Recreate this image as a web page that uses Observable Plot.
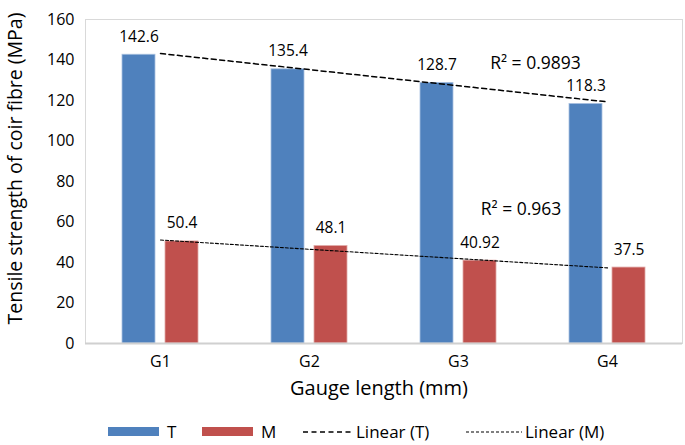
<!DOCTYPE html>
<html>
<head>
<meta charset="utf-8">
<script src="https://cdn.jsdelivr.net/npm/d3@7"></script>
<script src="https://cdn.jsdelivr.net/npm/@observablehq/plot@0.6"></script>
<style>
  body { margin: 0; background: #fff; font-family: "Open Sans", sans-serif; }
  #chart svg { display: block; }
  #legend { position: relative; width: 685px; height: 33px; font-size: 17px; color: #000; }
  #legend .it { position: absolute; top: 3px; height: 33px; display: flex; align-items: center; }
  #legend .sw { display: inline-block; width: 51px; height: 9px; }
  #legend svg { display: block; }
</style>
</head>
<body>
<div id="chart"></div>
<div id="legend"></div>
<script>
const categories = ["G1", "G2", "G3", "G4"];
const tValues = [142.6, 135.4, 128.7, 118.3];
const mValues = [50.4, 48.1, 40.92, 37.5];
const tLabels = ["142.6", "135.4", "128.7", "118.3"];
const mLabels = ["50.4", "48.1", "40.92", "37.5"];
const yTicks = [0, 20, 40, 60, 80, 100, 120, 140, 160];
const seriesNames = ["T", "M", "Linear (T)", "Linear (M)"];
const r2Texts = ["R² = 0.9893", "R² = 0.963"];
const r2Anchor = ["G3", "G3"];
const r2Y = [138.3, 66];
const yTitle = "Tensile strength of coir fibre (MPa)";
const xTitle = "Gauge length (mm)";

const tData = categories.map((c, i) => ({cat: c, value: tValues[i], label: tLabels[i]}));
const mData = categories.map((c, i) => ({cat: c, value: mValues[i], label: mLabels[i]}));

// least-squares linear trend over category index 1..n
function trend(values) {
  const xs = values.map((_, i) => i + 1);
  const mx = d3.mean(xs), my = d3.mean(values);
  const b = d3.sum(xs.map((x, i) => (x - mx) * (values[i] - my))) / d3.sum(xs.map(x => (x - mx) ** 2));
  const a = my - b * mx;
  return categories.map((c, i) => ({cat: c, y: a + b * (i + 1)}));
}
const tTrend = trend(tValues);
const mTrend = trend(mValues);

const blue = "#4F81BD", red = "#C0504D";
const font = "'Open Sans', sans-serif";

const chart = Plot.plot({
  width: 685,
  height: 412,
  marginLeft: 85,
  marginRight: 3,
  marginTop: 19,
  marginBottom: 69,
  style: {fontFamily: font, fontSize: "16px", color: "#000", background: "#fff"},
  x: {type: "band", domain: categories, paddingInner: 0.487, paddingOuter: 0.2435, axis: null},
  y: {domain: [0, 160], axis: null},
  marks: [
    Plot.frame({stroke: "#d9d9d9"}),
    Plot.barY(tData, {x: "cat", y: "value", fill: blue, insetRight: 43, stroke: "#a9c0e0", strokeWidth: 0.8}),
    Plot.barY(mData, {x: "cat", y: "value", fill: red, insetLeft: 43, stroke: "#e0a8a6", strokeWidth: 0.8}),
    Plot.ruleY([0], {stroke: "#d0d0d0", strokeWidth: 2}),
    Plot.line(tTrend, {x: "cat", y: "y", stroke: "#000", strokeWidth: 1.5, strokeDasharray: "5,3.5"}),
    Plot.line(mTrend, {x: "cat", y: "y", stroke: "#000", strokeWidth: 1.1, strokeDasharray: "3,2"}),
    Plot.text(tData, {x: "cat", y: "value", text: "label", dx: -21.5, dy: -18, fontSize: 15.5}),
    Plot.text(mData, {x: "cat", y: "value", text: "label", dx: 21.5, dy: -18, fontSize: 15.5}),
    Plot.text([0], {x: () => r2Anchor[0], y: () => r2Y[0], text: () => r2Texts[0], dx: 77, fontSize: 17.5}),
    Plot.text([0], {x: () => r2Anchor[1], y: () => r2Y[1], text: () => r2Texts[1], dx: 62.5, fontSize: 17.5}),
    Plot.axisY({ticks: yTicks, tickSize: 0, tickPadding: 11, fontSize: 16, label: null}),
    Plot.axisX({tickSize: 0, tickPadding: 12, fontSize: 16, label: null}),
    Plot.text([yTitle], {frameAnchor: "left", rotate: -90, dx: -70, dy: -13, textAnchor: "middle", lineAnchor: "middle", fontSize: 19.5}),
    Plot.text([xTitle], {frameAnchor: "bottom", dy: 45, dx: -5, textAnchor: "middle", lineAnchor: "middle", fontSize: 20})
  ]
});
document.getElementById("chart").appendChild(chart);

// legend
const legend = document.getElementById("legend");
const items = [
  {left: 108, kind: "swatch", color: blue, name: seriesNames[0]},
  {left: 202, kind: "swatch", color: red, name: seriesNames[1]},
  {left: 303, kind: "dash", dash: "5,3.5", width: 1.5, len: 50, name: seriesNames[2]},
  {left: 466, kind: "dash", dash: "3,2", width: 1.1, len: 56, name: seriesNames[3]}
];
for (const it of items) {
  const d = document.createElement("div");
  d.className = "it";
  d.style.left = it.left + "px";
  if (it.kind === "swatch") {
    const s = document.createElement("span");
    s.className = "sw";
    s.style.background = it.color;
    d.appendChild(s);
  } else {
    const ns = "http://www.w3.org/2000/svg";
    const svg = document.createElementNS(ns, "svg");
    svg.setAttribute("width", it.len);
    svg.setAttribute("height", 10);
    const ln = document.createElementNS(ns, "line");
    ln.setAttribute("x1", 0); ln.setAttribute("x2", it.len);
    ln.setAttribute("y1", 5); ln.setAttribute("y2", 5);
    ln.setAttribute("stroke", "#000");
    ln.setAttribute("stroke-width", it.width);
    ln.setAttribute("stroke-dasharray", it.dash);
    svg.appendChild(ln);
    d.appendChild(svg);
  }
  const t = document.createElement("span");
  t.textContent = it.name;
  t.style.marginLeft = it.kind === "swatch" ? "8px" : "3px";
  d.appendChild(t);
  legend.appendChild(d);
}
</script>
</body>
</html>
